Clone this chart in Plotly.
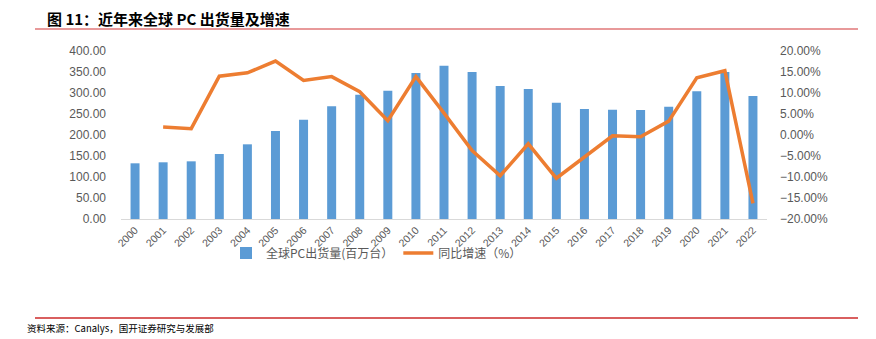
import plotly.graph_objects as go

years = [str(y) for y in range(2000, 2023)]
shipments = [132.6, 135.0, 137.3, 154.8, 177.8, 209.5, 236.5, 268.2, 296.0, 305.6,
             347.6, 365.0, 350.0, 316.7, 309.5, 277.0, 262.0, 260.3, 259.5, 267.5,
             304.0, 350.0, 293.0]
growth = [None, 1.9, 1.5, 14.0, 14.8, 17.6, 13.0, 13.9, 10.3, 3.4,
          13.9, 5.2, -3.7, -9.7, -2.1, -10.3, -5.3, -0.2, -0.4, 3.3,
          13.6, 15.3, -16.3]

tick_font = dict(family="Liberation Sans, Arial, sans-serif", size=12, color="#595959")
xtick_font = dict(family="Liberation Sans, Arial, sans-serif", size=10.5, color="#595959")
cjk = "Noto Sans CJK SC, sans-serif"

PL, PR, PT, PB = 121, 767, 51, 219
PW, PH = PR - PL, PB - PT

def px(x):
    return (x - PL) / PW

def py(y):
    return (PB - y) / PH

fig = go.Figure()
fig.add_trace(go.Bar(x=years, y=shipments, name="全球PC出货量(百万台）",
                     marker=dict(color="#5B9BD5", line=dict(width=0)), width=0.32,
                     yaxis="y"))
fig.add_trace(go.Scatter(x=years, y=growth, name="同比增速（%）", mode="lines",
                         line=dict(color="#ED7D31", width=3.5), yaxis="y2",
                         connectgaps=False))

fig.update_layout(
    width=876, height=339,
    margin=dict(l=PL, r=876 - PR, t=PT, b=339 - PB, autoexpand=False),
    paper_bgcolor="white", plot_bgcolor="white",
    showlegend=True,
    legend=dict(orientation="h", xref="paper", yref="paper",
                x=px(226), y=py(253), xanchor="left", yanchor="middle",
                font=dict(family=cjk, size=12, color="#595959"),
                itemwidth=30, tracegroupgap=0, bgcolor="rgba(0,0,0,0)"),
    xaxis=dict(type="category", tickangle=-45, tickfont=xtick_font,
               showline=True, linecolor="#D9D9D9", linewidth=1, automargin=False,
               showgrid=False, ticks="", zeroline=False),
    yaxis=dict(range=[0, 400], dtick=50, tickformat=".2f", tickfont=tick_font,
               automargin=False, ticklabelstandoff=14,
               showgrid=False, zeroline=False, showline=False, ticks=""),
    yaxis2=dict(range=[-20, 20], dtick=5, tickformat=".2f", ticksuffix="%",
                overlaying="y", side="right", tickfont=tick_font, automargin=False,
                ticklabelstandoff=12,
                showgrid=False, zeroline=False, showline=False, ticks=""),
)

fig.add_annotation(text="<b>图 11：近年来全球 PC 出货量及增速</b>", xref="paper", yref="paper",
                   x=px(45), y=py(18), xanchor="left", yanchor="middle",
                   showarrow=False, font=dict(family=cjk, size=15, color="#000000"))
fig.add_annotation(text="资料来源：Canalys，国开证券研究与发展部", xref="paper", yref="paper",
                   x=px(25), y=py(328), xanchor="left", yanchor="middle",
                   showarrow=False, font=dict(family=cjk, size=9.5, color="#000000"))

for y, col, w in [(29, "#E8999A", 2), (318, "#D95F5F", 2)]:
    fig.add_shape(type="line", xref="paper", yref="paper",
                  x0=px(35), x1=px(858), y0=py(y), y1=py(y),
                  line=dict(color=col, width=w))

fig.write_html("out.html")
